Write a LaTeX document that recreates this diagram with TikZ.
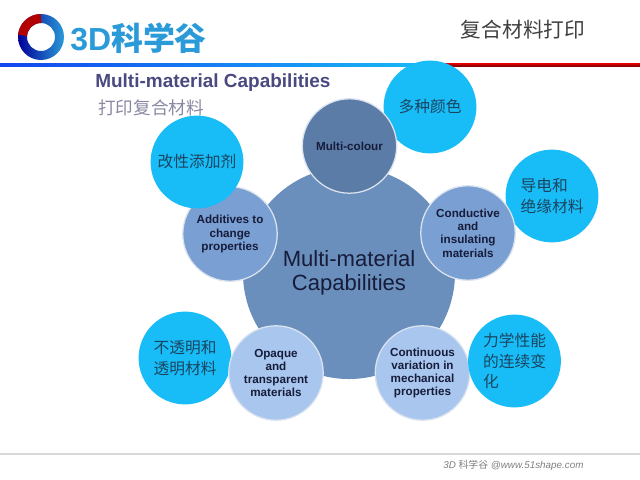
\documentclass[tikz,border=0pt]{standalone}
\usepackage{fontspec}
\setmainfont{Liberation Sans}
\newfontfamily\cjk{Noto Sans CJK SC}
\definecolor{hubblue}{HTML}{6A8FBD}
\definecolor{topblue}{HTML}{5C7CA8}
\definecolor{midblue}{HTML}{7A9FD3}
\definecolor{paleblue}{HTML}{A9C6EE}
\definecolor{skyblue}{HTML}{18BDF8}
\definecolor{titleblue}{HTML}{4A4A80}
\definecolor{logoblue}{HTML}{2A9AD8}
\definecolor{inkblue}{HTML}{161C3A}
\definecolor{noteink}{HTML}{1A4560}
\begin{document}
\begin{tikzpicture}[x=0.025cm,y=-0.025cm,
    petal/.style={circle,draw=white!75!hubblue,line width=0.9pt,minimum size=2.36cm,inner sep=0pt,align=center,font=\fontsize{8.3}{9.4}\selectfont\bfseries,text=inkblue},
    note/.style={circle,fill=skyblue,minimum size=2.32cm,inner sep=0pt,align=left,font=\cjk\fontsize{11.2}{14.5}\selectfont,text=noteink}]
  \useasboundingbox (0,0) rectangle (640,480);
  \fill[white] (0,0) rectangle (640,480);

  % logo
  \shade[even odd rule,left color=blue!60!black,right color=logoblue] (41,37) circle (23) (41,37) circle (14);
  \draw[line width=0.225cm,red!70!black] (41,18.5) arc (-90:-175:18.5);
  \node[font=\fontsize{22.7}{24}\selectfont\bfseries,text=logoblue,anchor=west,inner sep=0pt] (logo) at (70,38) {3D{\cjk 科学谷}};
  \node[font=\cjk\fontsize{14.7}{16}\selectfont,text=black!75] (chapter) at (523,30) {复合材料打印};

  % header and footer rules
  \shade[left color=blue!55!logoblue,right color=skyblue] (0,63.5) rectangle (443,66);
  \shade[top color=red!85!black,bottom color=red!55!black] (443,63.5) rectangle (640,66);
  \coordinate (footL) at (0,454);
  \coordinate (footR) at (640,454);
  \draw[line width=1.4pt,black!15] (footL) -- (footR);
  \node[font=\fontsize{7}{8}\selectfont\itshape,text=black!50,anchor=west,inner sep=0pt] (footer) at (443,465) {3D {\cjk 科学谷} @www.51shape.com};

  \node[font=\fontsize{13.5}{15}\selectfont\bfseries,text=titleblue,anchor=west,inner sep=0pt] (title) at (95,83) {Multi-material Capabilities};
  \node[font=\cjk\fontsize{12.5}{14}\selectfont,text=titleblue!80!black!60!white,anchor=west,inner sep=0pt] (subtitle) at (98,108) {打印复合材料};

  % hub and petals
  \node[circle,fill=hubblue,minimum size=5.3cm,inner sep=0pt,align=center,font=\fontsize{15.7}{17}\selectfont,text=inkblue] (hub) at (349,273) {Multi-material\\Capabilities};

  \node[note] (colours) at (430,107) {多种颜色};
  \node[note] (wires) at (552,196) {导电和\\绝缘材料};
  \node[note] (clear) at (185,358) {不透明和\\透明材料};

  \node[petal,fill=topblue] (top) at (349.5,146) {Multi-colour};
  \node[petal,fill=midblue] (right) at (468,233) {Conductive\\and\\insulating\\materials};
  \node[petal,fill=paleblue] (lowright) at (422.5,373) {Continuous\\variation in\\mechanical\\properties};
  \node[petal,fill=paleblue] (lowleft) at (276,373) {Opaque\\and\\transparent\\materials};
  \node[petal,fill=midblue] (left) at (230,234) {Additives to\\change\\properties};

  \node[note] (additive) at (197,162) {改性添加剂};
  \node[note] (gradient) at (514.5,361) {力学性能\\的连续变\\化};
\end{tikzpicture}
\end{document}
